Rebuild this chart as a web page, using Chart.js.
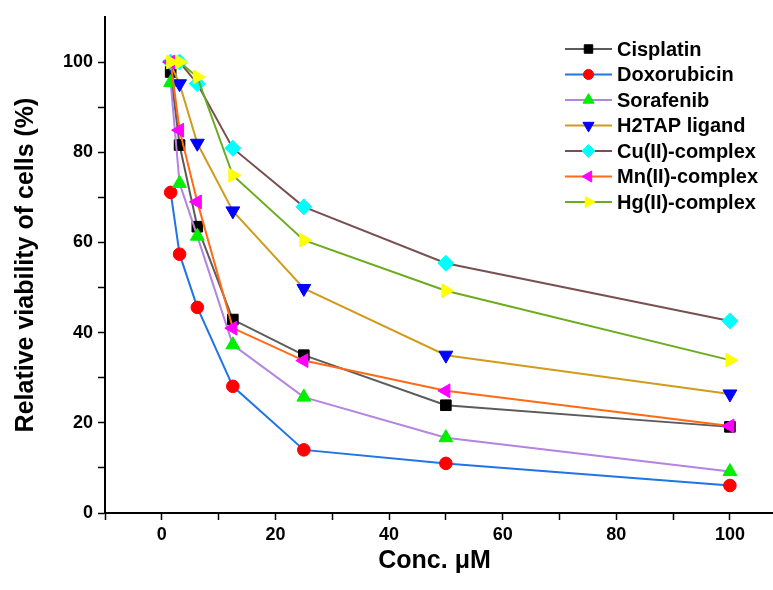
<!DOCTYPE html>
<html>
<head>
<meta charset="utf-8">
<script src="https://cdn.jsdelivr.net/npm/chart.js@4.4.1/dist/chart.umd.min.js"></script>
<style>
  html, body { margin: 0; padding: 0; background: #fff; overflow: hidden; }
  canvas { display: block; }
</style>
</head>
<body>
<canvas id="viabilityChart" width="773" height="590"></canvas>
<script>
// Concentrations (uM)
const conc = [1.56, 3.125, 6.25, 12.5, 25, 50, 100];

// Relative viability (%) per compound
const cisplatin   = [97.8, 81.6, 63.5, 42.9, 35.0, 23.9, 19.1];
const doxorubicin = [71.1, 57.4, 45.6, 28.1, 14.0, 11.0, 6.1];
const sorafenib   = [95.5, 73.1, 61.4, 37.3, 25.7, 16.7, 9.2];
const h2tap       = [99.5, 95.2, 82.0, 67.0, 49.8, 35.0, 26.4];
const cuComplex   = [100, 100, 95.2, 80.9, 67.9, 55.4, 42.6];
const mnComplex   = [100, 84.9, 69.0, 41.0, 33.8, 27.1, 19.3];
const hgComplex   = [100, 100, 96.7, 74.9, 60.5, 49.3, 33.9];

// Axis ticks
const xTicks = [-10, 0, 10, 20, 30, 40, 50, 60, 70, 80, 90, 100];
const xLabels = [0, 20, 40, 60, 80, 100];
const yTicks = [0, 10, 20, 30, 40, 50, 60, 70, 80, 90, 100];
const yLabels = [0, 20, 40, 60, 80, 100];

const names = ['Cisplatin', 'Doxorubicin', 'Sorafenib', 'H2TAP ligand', 'Cu(II)-complex', 'Mn(II)-complex', 'Hg(II)-complex'];
const values = [cisplatin, doxorubicin, sorafenib, h2tap, cuComplex, mnComplex, hgComplex];
const lineColors = ['#5b5b5b', '#1f74e6', '#b583e0', '#cf9c1c', '#7a4f4f', '#ff6a14', '#6aac1e'];
const markColors = ['#000000', '#ff0000', '#00ee00', '#0000ff', '#00ffff', '#ff00ff', '#ffff00'];
const markStyles = ['rect', 'circle', 'triangle', 'triangle', 'rectRot', 'triangle', 'triangle'];
const markRot = [0, 0, 0, 180, 0, -90, 90];
const markRadius = [7.5, 6.3, 8, 8, 8, 8, 8];

const FONT = '"Liberation Sans", Arial, sans-serif';

const datasets = names.map((name, i) => ({
  label: name,
  data: conc.map((c, j) => ({ x: c, y: values[i][j] })),
  borderColor: lineColors[i],
  borderWidth: 2,
  backgroundColor: markColors[i],
  pointBackgroundColor: markColors[i],
  pointBorderColor: markColors[i],
  pointBorderWidth: 1,
  pointStyle: markStyles[i],
  pointRotation: markRot[i],
  pointRadius: markRadius[i],
  tension: 0,
  order: names.length - i   // last series drawn on top
}));

// legend drawn inside the plot area, line - marker - line
const insideLegend = {
  id: 'insideLegend',
  afterDraw(chart) {
    const ctx = chart.ctx;
    const x0 = 565, x1 = 612, xm = 588.5, y0 = 49, dy = 25.5;
    ctx.save();
    // bottom axis runs to the edge of the figure
    const a = chart.chartArea;
    ctx.strokeStyle = '#000';
    ctx.lineWidth = 2;
    ctx.beginPath();
    ctx.moveTo(a.right - 2, a.bottom);
    ctx.lineTo(chart.width, a.bottom);
    ctx.stroke();

    ctx.font = 'bold 20px ' + FONT;
    ctx.textBaseline = 'middle';
    names.forEach((name, i) => {
      const y = y0 + i * dy;
      ctx.strokeStyle = lineColors[i];
      ctx.lineWidth = 2;
      ctx.beginPath();
      ctx.moveTo(x0, y);
      ctx.lineTo(x1, y);
      ctx.stroke();
      ctx.fillStyle = markColors[i];
      ctx.strokeStyle = markColors[i];
      ctx.lineWidth = 1;
      Chart.helpers.drawPoint(ctx, {
        pointStyle: markStyles[i],
        rotation: markRot[i],
        radius: markRadius[i] * 0.8,
        borderWidth: 1
      }, xm, y);
      ctx.fillStyle = '#000';
      ctx.fillText(name, 617, y + 1);
    });
    ctx.restore();
  }
};

const ctx = document.getElementById('viabilityChart').getContext('2d');
const viabilityChart = new Chart(ctx, {
  type: 'line',
  data: { datasets: datasets },
  options: {
    responsive: false,
    animation: false,
    layout: { padding: { top: 17, right: 0, left: 0, bottom: 0 } },
    plugins: {
      legend: { display: false },
      tooltip: { enabled: false }
    },
    scales: {
      x: {
        type: 'linear',
        min: -10,
        max: 106,
        afterBuildTicks: (scale) => { scale.ticks = xTicks.map(v => ({ value: v })); },
        afterFit: (scale) => { scale.height = 77; },
        border: { display: true, color: '#000', width: 2 },
        grid: { display: true, drawOnChartArea: false, tickLength: 7, tickColor: '#000', tickWidth: 1.5 },
        ticks: {
          autoSkip: false,
          maxRotation: 0,
          padding: 4,
          color: '#000',
          font: { family: FONT, size: 18, weight: 'bold' },
          callback: (v) => xLabels.includes(v) ? String(v) : ''
        },
        title: {
          display: true,
          text: 'Conc. μM',
          color: '#000',
          font: { family: FONT, size: 25, weight: 'bold' },
          padding: { top: 0, bottom: 14 }
        }
      },
      y: {
        type: 'linear',
        min: 0,
        max: 110,
        afterBuildTicks: (scale) => { scale.ticks = yTicks.map(v => ({ value: v })); },
        afterFit: (scale) => { scale.width = 105; },
        border: { display: true, color: '#000', width: 2 },
        grid: { display: true, drawOnChartArea: false, tickLength: 7, tickColor: '#000', tickWidth: 1.5 },
        ticks: {
          autoSkip: false,
          padding: 5,
          color: '#000',
          font: { family: FONT, size: 18, weight: 'bold' },
          callback: (v) => yLabels.includes(v) ? String(v) : ''
        },
        title: {
          display: true,
          text: 'Relative viability of cells (%)',
          color: '#000',
          font: { family: FONT, size: 25, weight: 'bold' },
          padding: { top: 11, bottom: 0 }
        }
      }
    }
  },
  plugins: [insideLegend]
});
</script>
</body>
</html>
